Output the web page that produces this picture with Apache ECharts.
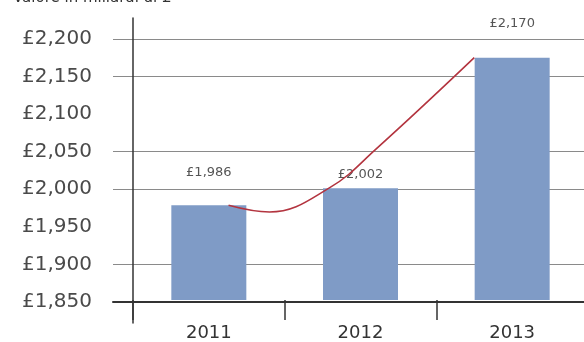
<!DOCTYPE html>
<html>
<head>
<meta charset="utf-8">
<script src="https://cdn.jsdelivr.net/npm/echarts@6/dist/echarts.min.js"></script>
<style>
  html, body { margin: 0; padding: 0; background: #fff; overflow: hidden; }
  #chart { width: 590px; height: 342px; }
</style>
</head>
<body>
<div id="chart"></div>
<script>
// data
const years = ["2011", "2012", "2013"];
const barValues = [1977, 2000, 2175];
const barLabels = ["£1,986", "£2,002", "£2,170"];
const labelGaps = [26, 7, 28];
// trend curve, x in category units (0 = left edge of 2011, 3 = right edge of 2013)
const trendX = [0.63, 0.9, 1.3, 1.6, 2.25];
const trendY = [1977, 1968, 2001, 2052, 2175];
const yTicks = [1850, 1900, 1950, 2000, 2050, 2100, 2150, 2200];
const gridShown = [true, true, false, true, true, false, true, true];

const chart = echarts.init(document.getElementById("chart"));
const font = "DejaVu Sans";

chart.setOption({
  animation: false,
  graphic: [{
    type: "text", left: 13, top: -9,
    style: { text: "Valore in miliardi di £", fontFamily: font, fontSize: 15, fill: "#333" }
  }],
  grid: [
    { left: 113, top: 39, right: 2, bottom: 40 },
    { left: 133, top: 39, right: 2, bottom: 40 },
    { left: 133, top: 18, right: 2, bottom: 19 }
  ],
  xAxis: [
    {
      gridIndex: 0, type: "value", min: 0, max: 1,
      axisLine: { show: true, lineStyle: { color: "#333", width: 2 } },
      axisTick: { show: false }, axisLabel: { show: false }, splitLine: { show: false }
    },
    {
      gridIndex: 1, type: "category", data: years,
      axisLine: { show: false },
      axisTick: { show: true, length: 20, lineStyle: { color: "#333", width: 1.5 } },
      axisLabel: { margin: 24, fontFamily: font, fontSize: 18, color: "#333" }
    },
    { gridIndex: 1, type: "value", min: 0, max: 3, show: false },
    { gridIndex: 2, type: "value", min: 0, max: 1, show: false }
  ],
  yAxis: [
    {
      gridIndex: 0, type: "value", min: yTicks[0], max: yTicks[yTicks.length - 1], interval: 50,
      axisLine: { show: false }, axisTick: { show: false },
      axisLabel: {
        margin: 21, fontFamily: font, fontSize: 20, color: "#4a4a4a",
        formatter: (v) => "£" + v.toLocaleString("en-GB")
      },
      splitLine: {
        show: true,
        lineStyle: { color: gridShown.map((s) => (s ? "#8a8a8a" : "rgba(0,0,0,0)")), width: 1 }
      }
    },
    { gridIndex: 1, type: "value", min: yTicks[0], max: yTicks[yTicks.length - 1], show: false },
    {
      gridIndex: 2, type: "value", min: 0, max: 1,
      axisLine: { show: true, lineStyle: { color: "#333", width: 1.5 } },
      axisTick: { show: false }, axisLabel: { show: false }, splitLine: { show: false }
    }
  ],
  series: [
    {
      type: "bar", xAxisIndex: 1, yAxisIndex: 1, barWidth: 75,
      itemStyle: { color: "#7f9bc6" },
      data: barValues.map((v, i) => ({
        value: v,
        label: {
          show: true, position: "top", distance: labelGaps[i],
          formatter: barLabels[i], fontFamily: font, fontSize: 13, color: "#555"
        }
      }))
    },
    {
      type: "line", xAxisIndex: 2, yAxisIndex: 1, smooth: 0.4, symbol: "none",
      lineStyle: { color: "#b3343f", width: 1.6 },
      data: trendX.map((x, i) => [x, trendY[i]]),
      z: 5
    }
  ]
});
</script>
</body>
</html>
